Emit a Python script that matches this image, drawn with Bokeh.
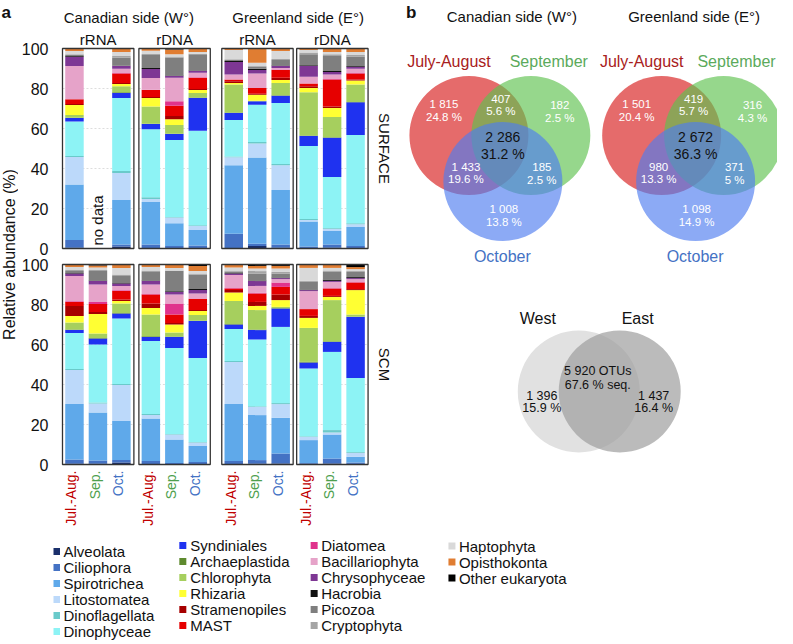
import math
import numpy as np
from bokeh.plotting import figure
from bokeh.layouts import row
from bokeh.models import Range1d, FixedTicker, LinearAxis
from bokeh.core.properties import value
from bokeh.embed import file_html
from bokeh.resources import INLINE

FONT = "Liberation Sans"

# ------------------------------------------------------------------ data
sides = ["Canadian side (W°)", "Greenland side (E°)"]
libraries = ["rRNA", "rDNA", "rRNA", "rDNA"]
depths = ["SURFACE", "SCM"]
months = ["Jul.-Aug.", "Sep.", "Oct."]
month_colors = ["#C00000", "#4E9F4E", "#4472C4"]
y_ticks = [0, 20, 40, 60, 80, 100]

taxa = ["Alveolata", "Ciliophora", "Spirotrichea", "Litostomatea", "Dinoflagellata",
        "Dinophyceae", "Syndiniales", "Archaeplastida", "Chlorophyta", "Rhizaria",
        "Stramenopiles", "MAST", "Diatomea", "Bacillariophyta", "Chrysophyceae",
        "Hacrobia", "Picozoa", "Cryptophyta", "Haptophyta", "Opisthokonta",
        "Other eukaryota"]
taxa_colors = ["#1A2F6B", "#4472C4", "#5FA9EA", "#BCD9FA", "#6ACACA",
               "#8DF3F5", "#1F32F0", "#5E8A2E", "#A6CF5E", "#FFFF33",
               "#A60000", "#E60000", "#E0338C", "#E6A3C9", "#7E3794",
               "#111111", "#7F7F7F", "#A5A5A5", "#D9D9D9", "#E07D32",
               "#000000"]

# relative abundance (%) per bar; order: SURFACE then SCM, each as
# Canadian rRNA (Jul-Aug, Sep, Oct), Canadian rDNA, Greenland rRNA, Greenland rDNA
alveolata       = [0.4, 0, 1, 0.3, 0.3, 0.3, 0.3, 1.2, 0.4, 0.3, 0.4, 0.3, 0.4, 0.4, 1, 0.3, 0.2, 0.3, 0.3, 0.4, 0.5, 0.3, 0.5, 0.3]
ciliophora      = [3.8, 0, 1, 1.7, 0.9, 1.2, 7.1, 1.2, 1.6, 0.7, 1.6, 1, 2.1, 1.6, 1.2, 1.4, 0.5, 1, 1.4, 1.8, 5, 0.4, 2.5, 0.7]
spirotrichea    = [27.8, 0, 22.2, 21.3, 11.4, 7.8, 34.2, 43.1, 27.3, 12.5, 6.8, 9.5, 27.7, 24, 19.5, 21.3, 11.8, 8, 28.5, 22.5, 17.8, 11.5, 12, 2.8]
litostomatea    = [13.8, 0, 13.5, 1.5, 2.9, 2, 4, 7, 12.3, 0.8, 1.1, 1.3, 17, 4.5, 18, 1.7, 2.5, 1.7, 21.1, 4.1, 6.9, 1.6, 1, 2]
dinoflagellata  = [0.5, 0, 1, 0.8, 0.3, 0.3, 0.4, 0.7, 0.7, 0.4, 0.3, 0.5, 0.5, 0.5, 0.5, 0.5, 0.2, 0.3, 0.5, 0.3, 0.5, 0.3, 1.2, 0.4]
dinophyceae     = [17.2, 0, 36.6, 34, 38.4, 47.3, 18.3, 18.7, 30.4, 36.6, 25.5, 44.1, 18.1, 29, 32.8, 36.5, 43.1, 42, 15.9, 33.4, 38.1, 33.9, 39.1, 37.1]
syndiniales     = [1.7, 0, 2.5, 2.6, 3, 16.4, 3.4, 1.7, 3.7, 4.9, 19.7, 16.4, 1.4, 3, 2.5, 2.1, 5.5, 18.4, 2.3, 4.7, 9.2, 3, 5, 30.5]
archaeplastida  = [0.2, 0, 0.3, 0.2, 0.2, 0.2, 0.3, 0, 0.2, 0.3, 0.2, 0.2, 0.3, 0.2, 0.2, 0.3, 0.2, 0.2, 0.3, 0.3, 0.2, 0.3, 0.3, 0.2]
chlorophyta     = [1.3, 0, 3, 8.6, 4.4, 2.3, 14, 0.3, 6.2, 21.6, 10.1, 8.7, 3.5, 2.3, 4.8, 10.9, 2, 2.8, 11.4, 9.7, 0.6, 17, 20.6, 1]
rhizaria        = [5, 0, 1.1, 4.3, 2.8, 1.5, 0.8, 3, 1.4, 2.2, 4.5, 2, 3.3, 9.7, 1.2, 3.3, 4, 2, 4.3, 2.1, 3.4, 5, 1.6, 12.2]
stramenopiles   = [0.6, 0, 0.5, 0.5, 1.7, 0.4, 0.8, 0.5, 1.2, 0.8, 0.8, 0.5, 4.9, 1.1, 0.8, 2.2, 0.7, 0.5, 1.2, 2, 2.8, 1, 0.5, 0.5]
mast            = [2.3, 0, 4.8, 3.4, 5.1, 5.7, 0.9, 2.9, 3.8, 1.4, 13.5, 3, 2.1, 3.9, 4.3, 4.5, 4.3, 5.5, 0.8, 4.2, 3.8, 3.4, 3.7, 3.3]
diatomea        = [0, 0, 0.3, 0.2, 2.2, 0.2, 0, 0, 0.3, 0, 0.2, 0.2, 0.3, 1.1, 0.3, 0.2, 5.5, 0.3, 0.2, 0.3, 2.2, 0, 0.2, 0.2]
bacillariophyta = [16.6, 0, 2.1, 5.8, 11.8, 2.3, 2.5, 7.2, 0.7, 3.4, 2.3, 2.2, 12.7, 8.7, 2.2, 4.8, 4.5, 2.5, 6.5, 3.5, 1.7, 9, 3.1, 1.5]
chrysophyceae   = [4.7, 0, 1.3, 4.6, 0.8, 0.8, 6.3, 1.7, 1, 5.3, 1.2, 1, 1.2, 1.7, 1.2, 1.7, 1.3, 1.7, 0.8, 2.4, 0.5, 0.5, 0.5, 0.5]
hacrobia        = [0.3, 0, 0.2, 0.4, 0.3, 0.3, 0.5, 0.7, 0.3, 0.4, 0.5, 0.4, 0.3, 0.3, 0.3, 0.3, 0.3, 0.5, 0.3, 0.3, 0.3, 0.3, 0.7, 0.5]
picozoa         = [0.6, 0, 4.1, 6.6, 9, 8.1, 0.5, 1, 2.8, 5.5, 7.6, 4.7, 1, 4.7, 3.5, 4.3, 10.1, 7.3, 0.7, 3.5, 2, 3.8, 3.8, 2.6]
cryptophyta     = [0.3, 0, 0.8, 0.4, 0.5, 0.3, 0.3, 0.3, 0.5, 0.9, 0.8, 0.8, 0.5, 0.5, 0.7, 0.7, 0.3, 0.5, 0.5, 1.2, 0.8, 0.5, 0.7, 0.5]
haptophyta      = [1.6, 0, 2, 1.7, 1.1, 0.9, 4.6, 1.7, 4, 1.3, 1.2, 1.5, 1.5, 1.3, 3.3, 1.8, 1.3, 1.2, 1.5, 1.3, 1.7, 6.5, 1.3, 0.9]
opisthokonta    = [1, 0, 1.5, 1.1, 2.4, 1.7, 0.8, 7.1, 1, 0.7, 1.7, 1.7, 1, 1, 1.5, 1, 1.7, 2.6, 1.3, 1.3, 1.3, 1.5, 1.5, 1]
other_eukaryota = [0.3, 0, 0.2, 0, 0.5, 0, 0, 0, 0.2, 0, 0, 0, 0.2, 0.5, 0.2, 0.2, 0, 0.7, 0.2, 0.7, 0.7, 0.2, 0.2, 1.3]
no_data_bar = 1   # Canadian rRNA, September, SURFACE

abundances = [alveolata, ciliophora, spirotrichea, litostomatea, dinoflagellata,
              dinophyceae, syndiniales, archaeplastida, chlorophyta, rhizaria,
              stramenopiles, mast, diatomea, bacillariophyta, chrysophyceae,
              hacrobia, picozoa, cryptophyta, haptophyta, opisthokonta,
              other_eukaryota]

# Venn diagrams (panel b)
venn_sets = ["July-August", "September", "October"]
venn_set_colors = ["#A82020", "#5BAA5B", "#4472C4"]
venn_fill = ["#D71C1C", "#5EC24E", "#4E7DF0"]
# regions: A, AB, B, ABC, AC, BC, C
canada_counts = ["1 815", "407", "182", "2 286", "1 433", "185", "1 008"]
canada_pcts = ["24.8 %", "5.6 %", "2.5 %", "31.2 %", "19.6 %", "2.5 %", "13.8 %"]
greenland_counts = ["1 501", "419", "316", "2 672", "980", "371", "1 098"]
greenland_pcts = ["20.4 %", "5.7 %", "4.3 %", "36.3 %", "13.3 %", "5 %", "14.9 %"]
we_sets = ["West", "East"]
we_counts = ["1 396", "5 920 OTUs", "1 437"]
we_pcts = ["15.9 %", "67.6 % seq.", "16.4 %"]

# ------------------------------------------------------------------ layout
H = 640
Y0_PX, PX_PER_UNIT = 464, 2.0        # page y of SCM zero, pixels per %
def yv(py):                          # page y -> data y (for annotations)
    return (Y0_PX - py) / PX_PER_UNIT

ROW_BASE = [108, 0]                  # data offset of SURFACE / SCM rows
PANEL_LEFT = [69, 145.5, 228.5, 303.5]
PANEL_W, BAR_W, BAR_OFF0, BAR_STEP = 71.5, 18.5, 12.0, 23.5
LEFT_W = 18

def base_fig(width, x0, x1, border_left):
    f = figure(width=width, height=H, x_range=Range1d(x0, x1),
               y_range=Range1d(yv(H), yv(0)), output_backend="svg",
               toolbar_location=None, x_axis_location=None, y_axis_location=None,
               min_border_left=border_left, min_border_right=0, min_border_top=0,
               min_border_bottom=0)
    f.outline_line_color = None
    f.grid.visible = False
    f.background_fill_color = "white"
    f.border_fill_color = "white"
    return f

txt = dict(text_font=value(FONT), text_align="center", text_baseline="middle")

# narrow strip on the far left: panel letter and y-axis title
q = base_fig(LEFT_W, 8, 8 + LEFT_W, 0)
q.text(x=[9], y=[yv(12)], text=["a"], text_font=value(FONT), text_font_size="17px",
       text_font_style="bold", text_baseline="middle", text_align="left",
       text_color="#111111")
q.text(x=[16.5], y=[yv(254)], text=["Relative abundance (%)"], angle=math.pi / 2,
       text_font_size="16px", text_color="#111111", **txt)

MAIN_W = 777 - LEFT_W
p = base_fig(MAIN_W, 60, 785, 60 - 8 - LEFT_W)

ticks = list(y_ticks) + [ROW_BASE[0] + t for t in y_ticks]
yaxis = LinearAxis(ticker=FixedTicker(ticks=ticks), bounds=(0, ROW_BASE[0] + 100))
yaxis.major_label_overrides = {ROW_BASE[0] + t: str(t) for t in y_ticks}
yaxis.axis_line_color = None
yaxis.major_tick_line_color = None
yaxis.minor_tick_line_color = None
yaxis.major_tick_out = 0
yaxis.major_label_text_font = FONT
yaxis.major_label_text_font_size = "16px"
yaxis.major_label_text_color = "#111111"
yaxis.major_label_standoff = 5
p.add_layout(yaxis, "left")

# bar positions
xs, base = [], []
for r in range(2):
    for k in range(4):
        for j in range(3):
            xs.append(PANEL_LEFT[k] + BAR_OFF0 + BAR_STEP * j)
            base.append(ROW_BASE[r])
xs = np.array(xs)
base = np.array(base, float)

# faint dotted gridlines inside panels
gx0, gx1, gy = [], [], []
for r in range(2):
    for k in range(4):
        for t in y_ticks[1:-1]:
            gx0.append(PANEL_LEFT[k]); gx1.append(PANEL_LEFT[k] + PANEL_W)
            gy.append(ROW_BASE[r] + t)
p.segment(x0=gx0, y0=gy, x1=gx1, y1=gy, line_color="#DDDDDD", line_dash="2 2",
          line_width=1)

# stacked bars
cum = np.zeros(len(xs))
for name, col, vals in zip(taxa, taxa_colors, abundances):
    v = np.array(vals, float)
    p.vbar(x=xs, bottom=base + cum, top=base + cum + v, width=BAR_W,
           fill_color=col, line_color=None)
    cum += v

# panel frames
fl, fr, fb, ft = [], [], [], []
for r in range(2):
    for k in range(4):
        fl.append(PANEL_LEFT[k]); fr.append(PANEL_LEFT[k] + PANEL_W)
        fb.append(ROW_BASE[r]); ft.append(ROW_BASE[r] + 100)
p.quad(left=fl, right=fr, bottom=fb, top=ft, fill_color=None,
       line_color="#333333", line_width=1.3)

# "no data"
p.text(x=[xs[no_data_bar]], y=[ROW_BASE[0] + 14], text=["no data"], angle=math.pi / 2,
       text_font_size="15px", text_color="#111111", **txt)

# month labels
mx, mt, mc = [], [], []
for k in range(4):
    for j in range(3):
        mx.append(PANEL_LEFT[k] + BAR_OFF0 + BAR_STEP * j - 3)
        mt.append(months[j]); mc.append(month_colors[j])
p.text(x=mx, y=[yv(470)] * len(mx), text=mt, text_color=mc, angle=math.pi / 2,
       text_font=value(FONT), text_font_size="14px", text_align="right",
       text_baseline="middle")

# panel headings
p.text(x=[pl + PANEL_W / 2 for pl in PANEL_LEFT], y=[yv(39)] * 4, text=libraries,
       text_font_size="15px", text_color="#111111", **txt)
p.text(x=[135.5, 305], y=[yv(17)] * 2, text=sides, text_font_size="15px",
       text_color="#111111", **txt)
p.text(x=[391, 391], y=[ROW_BASE[0] + 50, ROW_BASE[1] + 50], text=depths,
       angle=-math.pi / 2, text_font_size="15px", text_color="#111111", **txt)

# panel letter b
p.text(x=[413], y=[yv(12)], text=["b"], text_font=value(FONT), text_font_size="17px",
       text_font_style="bold", text_baseline="middle", text_color="#111111")

# legend
leg_sq_x = [63, 189.5, 321, 459]
leg_tx_x = [70, 197, 328, 466]
leg_y0 = [551, 545, 545, 545.5]
LEG_STEP = 16
sx, sy, sc, tx, ty, tt = [], [], [], [], [], []
for i, (name, col) in enumerate(zip(taxa, taxa_colors)):
    c, rr = divmod(i, 6)
    py = leg_y0[c] + rr * LEG_STEP
    sx.append(leg_sq_x[c]); sy.append(yv(py)); sc.append(col)
    tx.append(leg_tx_x[c]); ty.append(yv(py)); tt.append(name)
p.scatter(x=sx, y=sy, marker="square", size=7, fill_color=sc, line_color=None)
p.text(x=tx, y=ty, text=tt, text_font=value(FONT), text_font_size="15px",
       text_color="#111111", text_baseline="middle", text_align="left")

# ---- Venn diagrams by month
VENN_R = 59.5
venn1_centres = [(476, 135), (538, 135), (510, 181)]
venn_dx = 193
lab_x = [451, 508, 567, 510, 473, 549, 511]
lab_y = [(103, 116), (98, 110), (104, 117), (136, 153), (166, 178), (166, 179), (208, 221)]
title_x = [[456, 556, 509.5], [649, 744, 702.5]]
for v, (counts, pcts, title) in enumerate([(canada_counts, canada_pcts, sides[0]),
                                           (greenland_counts, greenland_pcts, sides[1])]):
    dx = v * venn_dx
    for (cx, cy), fc in zip(venn1_centres, venn_fill):
        p.scatter(x=[cx + dx], y=[yv(cy)], marker="circle", size=2 * VENN_R,
                  fill_color=fc, fill_alpha=0.65, line_color=None)
    for i in range(7):
        centre = (i == 3)
        col = "#111111" if centre else "white"
        fs = "14px" if centre else "11.5px"
        p.text(x=[lab_x[i] + dx] * 2, y=[yv(lab_y[i][0]), yv(lab_y[i][1])],
               text=[counts[i], pcts[i]], text_color=col, text_font_size=fs, **txt)
    p.text(x=title_x[v], y=[yv(61), yv(61), yv(256)],
           text=venn_sets, text_color=venn_set_colors, text_font_size="16px", **txt)
    p.text(x=[519 + v * 182.5], y=[yv(16)], text=[title], text_color="#111111",
           text_font_size="15px", **txt)

# ---- West / East Venn
p.scatter(x=[586], y=[yv(391)], marker="circle", size=122, fill_color="#E1E1E1",
          line_color=None)
p.scatter(x=[627], y=[yv(391)], marker="circle", size=122, fill_color="#9E9E9E",
          fill_alpha=0.7, line_color=None)
p.text(x=[545, 645], y=[yv(318)] * 2, text=we_sets, text_color="#111111",
       text_font_size="16px", **txt)
for (x, (y1, y2)), c, pc in zip([(549, (395, 407)), (605, (370, 384)), (661, (395, 407))],
                               we_counts, we_pcts):
    p.text(x=[x, x], y=[yv(y1), yv(y2)], text=[c, pc], text_color="#111111",
           text_font_size="12.5px", **txt)

layout = row(q, p)
open("out.html", "w").write(file_html(layout, INLINE))
